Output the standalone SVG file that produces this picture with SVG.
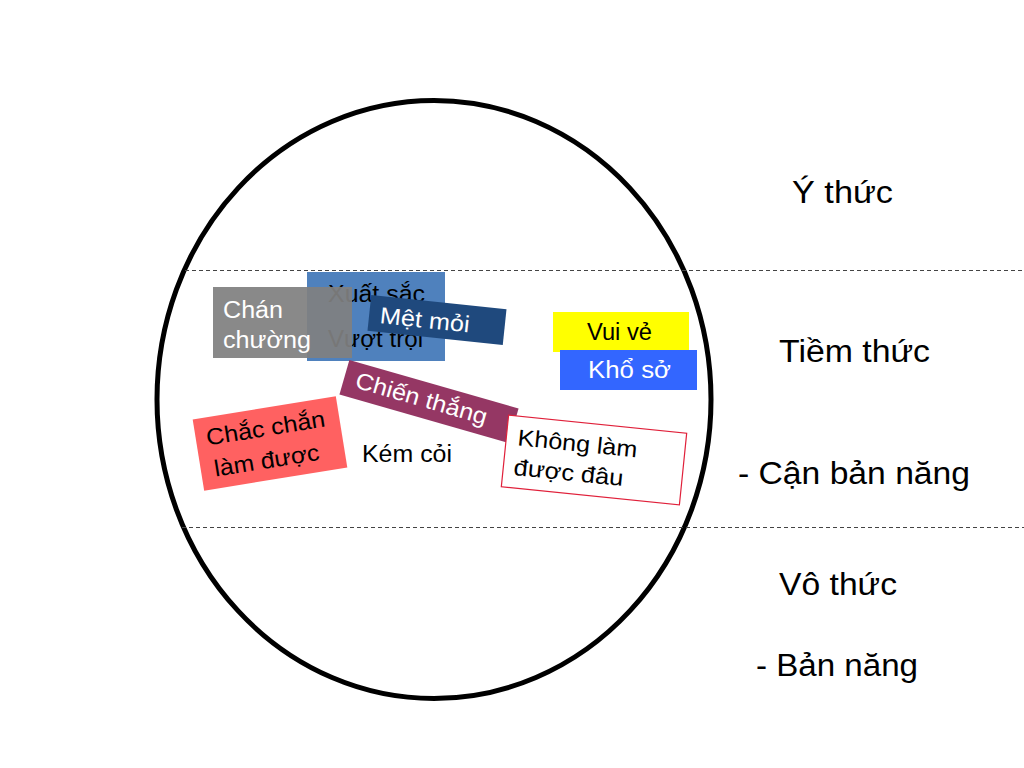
<svg xmlns="http://www.w3.org/2000/svg" width="1024" height="768" viewBox="0 0 1024 768">
<style>
text{font-family:"Liberation Sans",Arial,sans-serif}
.lbl{font-size:31px;fill:#000}
.bx{font-size:23px}
.w{fill:#fff}
.k{fill:#000}
.dash{stroke:#444;stroke-width:1.2;stroke-dasharray:4 3;fill:none}
</style>
<rect width="1024" height="768" fill="#fff"/>
<g id="circle">
<ellipse cx="434" cy="399.5" rx="277" ry="299" fill="none" stroke="#000" stroke-width="5"/>
</g>
<g id="connectors">
<line class="dash" x1="185" y1="270.5" x2="1024" y2="270.5"/>
<line class="dash" x1="182" y1="527.5" x2="1024" y2="527.5"/>
</g>
<g id="xuatsac">
<rect x="307" y="272" width="138" height="89" fill="#4F81BD"/>
<text class="bx k" x="328" y="302" textLength="97" lengthAdjust="spacingAndGlyphs">Xuất sắc</text>
<text class="bx k" x="328" y="347" textLength="95" lengthAdjust="spacingAndGlyphs">Vượt trội</text>
</g>
<g id="chanchuong">
<rect x="213" y="287" width="139" height="71" fill="#808080" fill-opacity="0.93"/>
<text class="bx w" x="223" y="318" textLength="60" lengthAdjust="spacingAndGlyphs">Chán</text>
<text class="bx w" x="223" y="348" textLength="88" lengthAdjust="spacingAndGlyphs">chường</text>
</g>
<g id="metmoi" transform="translate(437 320) rotate(6)">
<rect x="-68" y="-18" width="136" height="36" fill="#1F497D"/>
<text class="bx w" x="-57" y="9" textLength="90" lengthAdjust="spacingAndGlyphs">Mệt mỏi</text>
</g>
<g id="chienthang" transform="translate(429 401.5) rotate(16)">
<rect x="-88" y="-18" width="176" height="36" fill="#953764"/>
<text class="bx w" x="-76" y="7" textLength="136" lengthAdjust="spacingAndGlyphs">Chiến thắng</text>
</g>
<g id="chacchan" transform="translate(270 443.5) rotate(-9.2)">
<rect x="-72.5" y="-36" width="145" height="72" fill="#FF6161"/>
<text class="bx k" x="-62" y="-8" textLength="120" lengthAdjust="spacingAndGlyphs">Chắc chắn</text>
<text class="bx k" x="-59" y="24" textLength="106" lengthAdjust="spacingAndGlyphs">làm được</text>
</g>
<g id="kemcoi">
<text class="k" x="362" y="462" font-size="23" textLength="90" lengthAdjust="spacingAndGlyphs">Kém cỏi</text>
</g>
<g id="khonglam" transform="translate(594 460) rotate(5.8)">
<rect x="-89.5" y="-36" width="179" height="72" fill="#fff" stroke="#E0203A" stroke-width="1.2"/>
<text class="bx k" x="-78" y="-7" textLength="120" lengthAdjust="spacingAndGlyphs">Không làm</text>
<text class="bx k" x="-79" y="23" textLength="110" lengthAdjust="spacingAndGlyphs">được đâu</text>
</g>
<g id="vuive">
<rect x="553" y="312" width="136" height="40" fill="#FFFF00"/>
<text class="bx k" x="587" y="340" textLength="65" lengthAdjust="spacingAndGlyphs">Vui vẻ</text>
</g>
<g id="khoso">
<rect x="560" y="350" width="137" height="40" fill="#3366FF"/>
<text class="bx w" x="588" y="378" textLength="83" lengthAdjust="spacingAndGlyphs">Khổ sở</text>
</g>
<g id="labels">
<text class="lbl" x="792" y="203" textLength="101" lengthAdjust="spacingAndGlyphs">Ý thức</text>
<text class="lbl" x="779" y="362" textLength="151" lengthAdjust="spacingAndGlyphs">Tiềm thức</text>
<text class="lbl" x="738" y="484" textLength="232" lengthAdjust="spacingAndGlyphs">- Cận bản năng</text>
<text class="lbl" x="779" y="595" textLength="118" lengthAdjust="spacingAndGlyphs">Vô thức</text>
<text class="lbl" x="756" y="676" textLength="162" lengthAdjust="spacingAndGlyphs">- Bản năng</text>
</g>
</svg>
